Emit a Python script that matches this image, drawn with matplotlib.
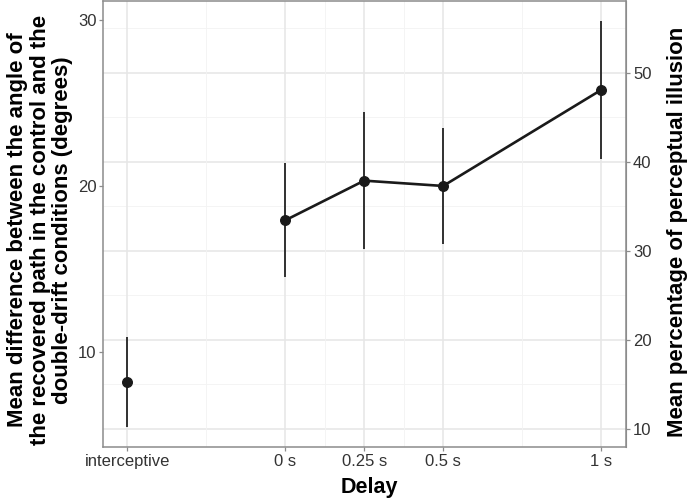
import matplotlib
matplotlib.use("Agg")
import matplotlib.pyplot as plt
import numpy as np

plt.rcParams['font.family'] = ['Liberation Sans', 'DejaVu Sans']

# Data
delay_labels = ["interceptive", "0 s", "0.25 s", "0.5 s", "1 s"]
delay_x = [-0.5, 0.0, 0.25, 0.5, 1.0]
mean_diff = [8.21, 17.93, 20.32, 20.0, 25.78]
err_low = [5.50, 14.54, 16.19, 16.49, 21.61]
err_high = [10.92, 21.37, 24.44, 23.51, 29.96]

left_ticks = [10, 20, 30]
right_ticks = [10, 20, 30, 40, 50]
right_minor = [15, 25, 35, 45, 55]
x_minor = [-0.25, 0.125, 0.375, 0.75]
scale = 1.8635  # secondary axis = primary * scale

W, H = 688, 499
L, R, T, B = 103.3, 626, 1, 447.3
fig = plt.figure(figsize=(6.88, 4.99), dpi=100)
ax = fig.add_axes([L/W, 1 - B/H, (R - L)/W, (B - T)/H])

ax.set_xlim(-0.576, 1.079)
ax.set_ylim(4.26, 31.14)

# grid (drawn according to secondary axis values)
for v in right_minor:
    ax.axhline(v / scale, color='#f3f3f3', lw=0.6, zorder=0)
for v in right_ticks:
    ax.axhline(v / scale, color='#e6e6e6', lw=1.1, zorder=0)
for v in x_minor:
    ax.axvline(v, color='#f3f3f3', lw=0.6, zorder=0)
for v in delay_x:
    ax.axvline(v, color='#e6e6e6', lw=1.1, zorder=0)

ax.vlines(delay_x, err_low, err_high, color='#1a1a1a', lw=1.25, zorder=2)
ax.plot(delay_x[1:], mean_diff[1:], color='#1a1a1a', lw=1.9, zorder=3)
ax.plot(delay_x, mean_diff, 'o', color='#1a1a1a', ms=6.9, zorder=4)

ax.set_xticks(delay_x)
ax.set_xticklabels(delay_labels)
ax.set_yticks(left_ticks)
for s in ax.spines.values():
    s.set_color('#8c8c8c')
    s.set_linewidth(1.1)
ax.tick_params(axis='both', colors='#8c8c8c', length=3, width=0.9, labelsize=12,
               labelcolor='#333333', pad=2)

ax.set_xlabel('Delay', fontsize=15.5, fontweight='bold')
ax.xaxis.set_label_coords(369 / W, 1 - 477 / H, transform=fig.transFigure)
ax.set_ylabel('Mean difference between the angle of\nthe recovered path in the control and the\ndouble-drift conditions (degrees)',
              fontsize=16, fontweight='bold', linespacing=1.08)
ax.yaxis.set_label_coords(73 / W, 1 - 230 / H, transform=fig.transFigure)

sec = ax.secondary_yaxis('right', functions=(lambda y: y * scale, lambda y: y / scale))
sec.set_yticks(right_ticks)
sec.spines['right'].set_color('#8c8c8c')
sec.tick_params(axis='y', colors='#8c8c8c', length=3, width=0.9, labelsize=12,
                labelcolor='#333333', pad=2)
sec.set_ylabel('Mean percentage of perceptual illusion', fontsize=16, fontweight='bold')
sec.yaxis.set_label_coords(667 / W, 1 - 232 / H, transform=fig.transFigure)

fig.savefig('out.png', dpi=100)
